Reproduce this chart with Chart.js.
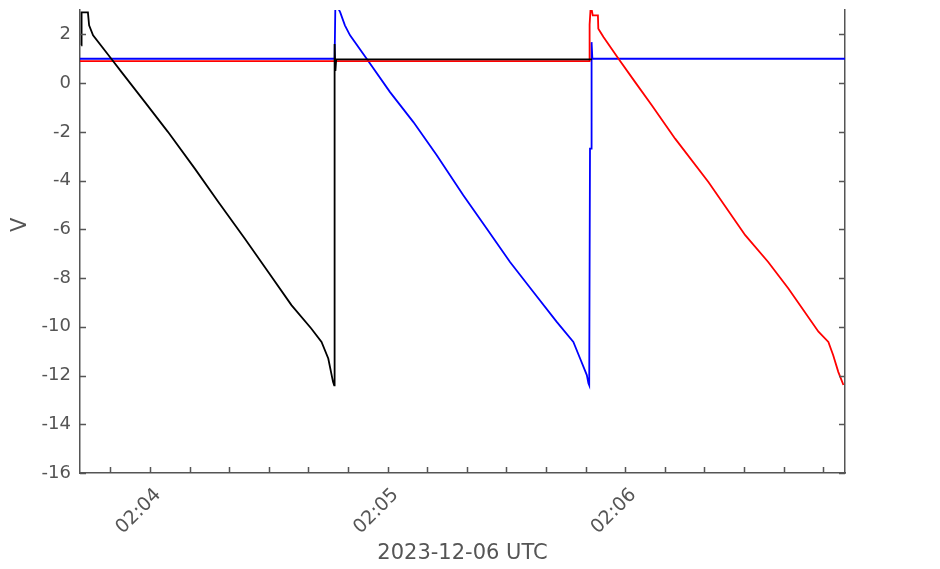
<!DOCTYPE html>
<html>
<head>
<meta charset="utf-8">
<title>V</title>
<script src="https://cdn.jsdelivr.net/npm/chart.js@4"></script>
<style>
  html, body { margin: 0; padding: 0; background: #fff; }
  #wrap { width: 940px; height: 569px; }
</style>
</head>
<body>
<div id="wrap"><canvas id="voltChart"></canvas></div>
<script>
// time in seconds after 02:00:00 UTC, voltage in V
const blackTime = [222.6, 222.7, 223.1, 224.3, 224.6, 225.6, 230.2, 232.8, 238.7, 244.5, 251.3, 257.2, 263.9, 269.8, 275.7, 280.7, 283.3, 285.0, 286.2, 286.5, 286.6, 286.8, 287.0, 351.6];
const blackVolt = [1.55, 2.9, 2.9, 2.9, 2.37, 1.96, 1.0, 0.45, -0.78, -2.0, -3.51, -4.87, -6.38, -7.74, -9.11, -10.07, -10.62, -11.3, -12.26, -12.4, 1.6, 0.5, 0.97, 0.97];

const blueTime = [222.3, 286.6, 286.8, 288.0, 289.2, 290.5, 294.7, 300.6, 306.5, 312.4, 319.1, 325.0, 330.9, 336.8, 342.7, 346.9, 348.6, 350.3, 350.7, 350.9, 351.1, 351.5, 351.5, 351.7, 415.5];
const blueVolt = [1.0, 1.0, 3.3, 2.91, 2.37, 1.96, 1.0, -0.37, -1.6, -2.96, -4.6, -5.97, -7.34, -8.57, -9.8, -10.62, -11.3, -11.98, -12.32, -12.4, -2.69, -2.69, 1.68, 1.0, 1.0];

const redTime = [222.3, 350.9, 351.0, 351.3, 351.8, 353.1, 353.2, 354.5, 358.3, 362.5, 366.7, 372.6, 381.0, 390.3, 396.1, 401.2, 408.8, 411.3, 412.5, 413.8, 415.1];
const redVolt = [0.9, 0.9, 2.4, 3.2, 2.78, 2.78, 2.23, 1.89, 1.0, 0.04, -0.91, -2.28, -4.06, -6.24, -7.34, -8.43, -10.2, -10.62, -11.16, -11.85, -12.39];

const timeMin = 222.3, timeMax = 415.5;
const voltMin = -16, voltMax = 3;
const xLabel = '2023-12-06 UTC';
const yLabel = '     V'; // leading spaces lift the rotated label a bit

const axisColor = '#555';
const font = 'DejaVu Sans';

function points(ts, vs) {
    return ts.map((t, i) => ({ x: t, y: vs[i] }));
}

function clock(sec) {
    const h = Math.floor(sec / 3600) + 2;
    const m = Math.floor(sec / 60) % 60;
    return String(h).padStart(2, '0') + ':' + String(m).padStart(2, '0');
}

// small ticks drawn inward from the axis lines
const innerTicks = {
    id: 'innerTicks',
    afterDatasetsDraw(chart) {
        const ctx = chart.ctx;
        const area = chart.chartArea;
        const xs = chart.scales.x, ys = chart.scales.y;
        ctx.save();
        ctx.strokeStyle = axisColor;
        ctx.lineWidth = 1.5;
        ctx.beginPath();
        xs.ticks.forEach(t => {
            const px = Math.round(xs.getPixelForValue(t.value)) + 0.5;
            ctx.moveTo(px, area.bottom);
            ctx.lineTo(px, area.bottom - 6);
        });
        ys.ticks.forEach(t => {
            const py = Math.round(ys.getPixelForValue(t.value)) + 0.5;
            ctx.moveTo(area.left, py);
            ctx.lineTo(area.left + 6, py);
            ctx.moveTo(area.right, py);
            ctx.lineTo(area.right - 6, py);
        });
        ctx.stroke();
        ctx.restore();
    }
};

const lineStyle = { borderWidth: 1.8, pointRadius: 0, tension: 0, fill: false };

new Chart(document.getElementById('voltChart'), {
    type: 'line',
    data: {
        datasets: [
            Object.assign({ label: 'black', data: points(blackTime, blackVolt), borderColor: '#000000' }, lineStyle),
            Object.assign({ label: 'red', data: points(redTime, redVolt), borderColor: '#ff0000' }, lineStyle),
            Object.assign({ label: 'blue', data: points(blueTime, blueVolt), borderColor: '#0000ff' }, lineStyle)
        ]
    },
    options: {
        responsive: true,
        maintainAspectRatio: false,
        animation: false,
        layout: { padding: { top: 10, left: 0, right: 0, bottom: 0 } },
        plugins: { legend: { display: false }, tooltip: { enabled: false } },
        scales: {
            x: {
                type: 'linear',
                min: timeMin,
                max: timeMax,
                grid: { drawOnChartArea: false, drawTicks: false },
                border: { display: true, color: axisColor, width: 1.5 },
                ticks: {
                    stepSize: 10,
                    includeBounds: false,
                    autoSkip: false,
                    minRotation: 45,
                    maxRotation: 45,
                    padding: 11,
                    labelOffset: 8,
                    color: axisColor,
                    font: { family: font, size: 19 },
                    callback: v => (Math.round(v) % 60 === 0 ? clock(v) : '')
                },
                title: {
                    display: true,
                    text: xLabel,
                    color: axisColor,
                    font: { family: font, size: 21 },
                    padding: { top: 0, bottom: 3 }
                },
                afterFit: s => { s.height = 96; s.paddingLeft = 0; s.paddingRight = 0; }
            },
            y: {
                position: 'left',
                min: voltMin,
                max: voltMax,
                grid: { drawOnChartArea: false, drawTicks: false },
                border: { display: true, color: axisColor, width: 1.5 },
                ticks: {
                    stepSize: 2,
                    includeBounds: false,
                    padding: 9,
                    color: axisColor,
                    font: { family: font, size: 18 }
                },
                title: {
                    display: true,
                    text: yLabel,
                    color: axisColor,
                    font: { family: font, size: 21 },
                    padding: { top: 8, bottom: 0 }
                },
                afterFit: s => { s.width = 80; s.paddingTop = 0; s.paddingBottom = 0; }
            },
            y2: {
                position: 'right',
                min: voltMin,
                max: voltMax,
                grid: { drawOnChartArea: false, drawTicks: false },
                border: { display: true, color: axisColor, width: 1.5 },
                ticks: { display: false },
                afterFit: s => { s.width = 95; s.paddingTop = 0; s.paddingBottom = 0; }
            }
        }
    },
    plugins: [innerTicks]
});
</script>
</body>
</html>
